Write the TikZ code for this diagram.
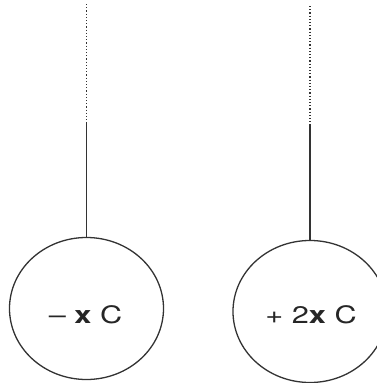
\documentclass[tikz,border=0pt]{standalone}
\usepackage{fontspec}
\setmainfont{TeX Gyre Heros}
\usepackage{tikz}
\usetikzlibrary{shapes.geometric, positioning}

\begin{document}
\begin{tikzpicture}[x=1pt, y=-1pt,
  ball/.style={ellipse, draw=black!80, line width=1.3pt, minimum width=154pt, minimum height=142pt, inner sep=0pt},
  charge/.style={anchor=base, text=black!85, font=\fontsize{24}{26}\selectfont},
  thread/.style={draw=black!80, line width=1.4pt},
  slack/.style={draw=black!80, line width=1.2pt, dotted},
]
\useasboundingbox (0,0) rectangle (377,383);
\clip (0,0) rectangle (377,383);

% --- left ball ---
\node[ball] (lball) at (86.5, 308.5) {};
\node[charge] (lq) at (85.5, 323) {\scalebox{1.28}[1]{– \textbf{x} C}};
\coordinate (ltop) at (86.5, 4);
\coordinate (lknot) at (86.5, 122);
\draw[slack] (ltop) -- (lknot);
\draw[thread] (lknot) -- (lball.north);

% --- right ball ---
\node[ball] (rball) at (310, 311.5) {};
\node[charge] (rq) at (311, 323) {\scalebox{1.28}[1]{+ 2\textbf{x} C}};
\coordinate (rtop) at (310, 6);
\coordinate (rknot) at (310, 124);
\draw[slack] (rtop) -- (rknot);
\draw[thread] (rknot) -- (rball.north);

\end{tikzpicture}
\end{document}
